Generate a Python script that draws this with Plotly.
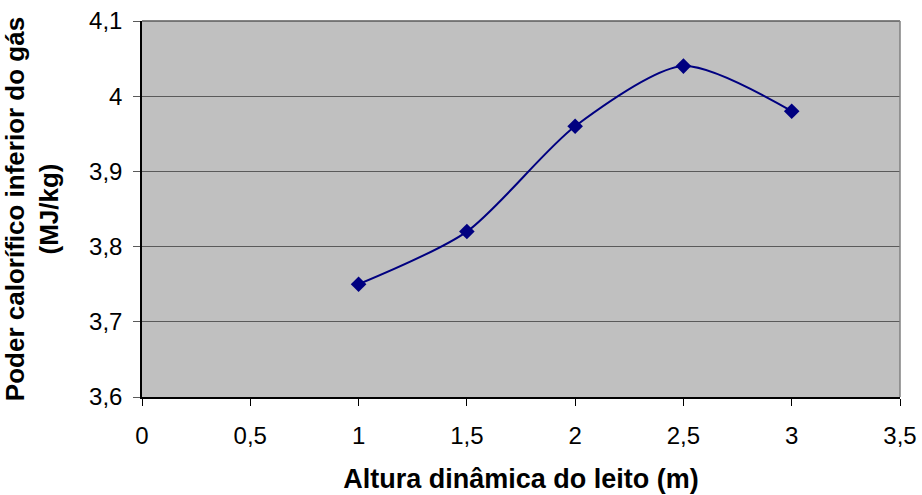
import plotly.graph_objects as go

# Bed height (m) vs. lower heating value of the gas (MJ/kg)
altura = [1.0, 1.5, 2.0, 2.5, 3.0]
pci = [3.75, 3.82, 3.96, 4.04, 3.98]

x_ticks = [0, 0.5, 1, 1.5, 2, 2.5, 3, 3.5]
x_labels = ["0", "0,5", "1", "1,5", "2", "2,5", "3", "3,5"]
y_ticks = [3.6, 3.7, 3.8, 3.9, 4.0, 4.1]
y_labels = ["3,6", "3,7", "3,8", "3,9", "4", "4,1"]

FONT = "Liberation Sans, Arial, sans-serif"
NAVY = "#000080"
GRID = "#5a5a5a"

fig = go.Figure()
fig.add_trace(go.Scatter(
    x=altura, y=pci,
    mode="lines+markers",
    line=dict(color=NAVY, width=2, shape="spline", smoothing=0.75),
    marker=dict(symbol="diamond", size=12, color=NAVY),
    showlegend=False,
))

fig.update_layout(
    width=922, height=495,
    margin=dict(l=142, r=22, t=21, b=98),
    paper_bgcolor="white",
    plot_bgcolor="#C0C0C0",
    font=dict(family=FONT, size=24, color="black"),
    xaxis=dict(
        range=[0, 3.5], tickvals=x_ticks, ticktext=x_labels,
        automargin=False,
        showgrid=False, zeroline=False,
        showline=True, linecolor="black", linewidth=1.5,
        ticks="outside", ticklen=7, tickcolor="black", tickwidth=1,
        ticklabelstandoff=9,
        title=dict(text="<b>Altura dinâmica do leito (m)</b>",
                   font=dict(size=27), standoff=22),
    ),
    yaxis=dict(
        range=[3.6, 4.1], tickvals=y_ticks, ticktext=y_labels,
        automargin=False,
        showgrid=True, gridcolor=GRID, gridwidth=1.2, zeroline=False,
        showline=True, linecolor="black", linewidth=1.5,
        ticks="outside", ticklen=7, tickcolor=GRID, tickwidth=1,
        ticklabelstandoff=6,
        title=dict(text="<b>Poder calorífico inferior do gás<br>(MJ/kg)</b>",
                   font=dict(size=26), standoff=28),
    ),
    shapes=[
        dict(type="line", xref="x domain", yref="y domain",
             x0=0, x1=1, y0=1, y1=1, line=dict(color=GRID, width=1.5)),
        dict(type="line", xref="x domain", yref="y domain",
             x0=1, x1=1, y0=0, y1=1, line=dict(color="#808080", width=1.5)),
    ],
)

fig.write_html("out.html")
